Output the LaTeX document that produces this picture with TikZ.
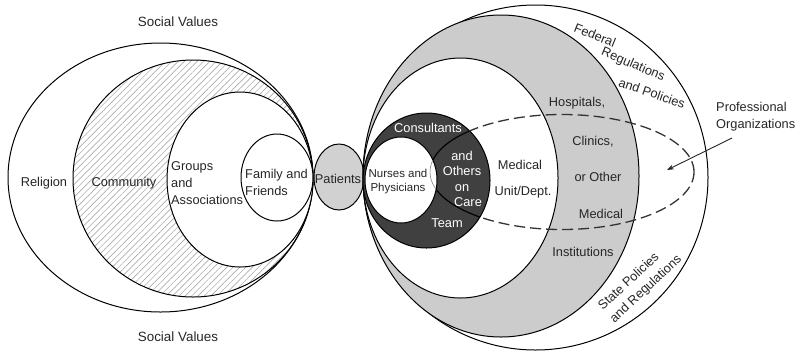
\documentclass[tikz,border=0pt]{standalone}
\usepackage{fontspec}
\setmainfont{Liberation Sans}
\usetikzlibrary{patterns.meta,arrows.meta}
\begin{document}
\begin{tikzpicture}[x=1pt,y=-1pt,
  outline/.style={draw=black,line width=1pt},
  lbl/.style={inner sep=0pt,font=\fontsize{12.8}{17}\selectfont,text=black!85},
  wlbl/.style={inner sep=0pt,font=\fontsize{12.8}{16}\selectfont,text=white},
  smalllbl/.style={inner sep=0pt,font=\fontsize{11.5}{14}\selectfont,text=black!85}]
\useasboundingbox (0,0) rectangle (799,354);
% ---------- left cluster ----------
\draw[outline,fill=white] (160.5,177.5) ellipse [x radius=152.5pt, y radius=134.5pt];
\fill[pattern={Lines[angle=45,distance=4.5pt,line width=0.45pt]},pattern color=black!40] (193,178.5) ellipse [x radius=120pt, y radius=118.5pt];
\draw[outline] (193,178.5) ellipse [x radius=120pt, y radius=118.5pt];
\draw[outline,fill=white] (240,179.5) ellipse [x radius=73pt, y radius=87.5pt];
\draw[outline,fill=white] (277,177.5) ellipse [x radius=36pt, y radius=43.5pt];
\draw[outline,fill=black!18] (339,177) ellipse [x radius=25pt, y radius=33pt];
% ---------- right cluster ----------
\draw[outline] (535.5,177.5) ellipse [x radius=172.5pt, y radius=172.5pt];
\draw[outline,fill=black!20] (501,176) ellipse [x radius=138pt, y radius=161pt];
\draw[outline,fill=white] (460.5,178) ellipse [x radius=97.5pt, y radius=120pt];
\draw[outline,fill=black!75] (426.5,180.5) ellipse [x radius=63.5pt, y radius=67.5pt];
% dashed ellipse
\draw[black!80,line width=1.3pt,dash pattern=on 11pt off 5pt] (562,172) ellipse [x radius=132pt, y radius=57.5pt];
\begin{scope}
  \clip (426.5,180.5) ellipse [x radius=63.5pt, y radius=67.5pt];
  \draw[black,line width=1.1pt] (562,172) ellipse [x radius=132pt, y radius=57.5pt];
\end{scope}
\draw[outline,fill=white] (401,180) ellipse [x radius=36pt, y radius=43pt];
\begin{scope}
  \clip (401,180) ellipse [x radius=36pt, y radius=43pt];
  \draw[black!55,line width=0.5pt] (562,172) ellipse [x radius=132pt, y radius=57.5pt];
\end{scope}
% ---------- labels ----------
\node[lbl,font=\fontsize{13.4}{17}\selectfont] (sv1) at (178,22) {Social Values};
\node[lbl,font=\fontsize{13.4}{17}\selectfont] (sv2) at (178,337) {Social Values};
\node[lbl] (religion) at (44,183) {Religion};
\node[lbl] (community) at (124,183) {Community};
\node[lbl,anchor=west,align=left] (groups) at (171,183) {Groups\\and\\Associations};
\node[lbl,anchor=west,align=left] (family) at (245,182.5) {Family and\\Friends};
\node[lbl] (patients) at (338,179) {Patients};
\node[smalllbl,align=center] (nurses) at (398,182) {Nurses and\\Physicians};
\node[wlbl] (consult) at (428,128) {Consultants};
\node[wlbl,align=center,font=\fontsize{12.8}{15.5}\selectfont] (others) at (462,171) {and\\Others\\on};
\node[wlbl] (care) at (468,202) {Care};
\node[wlbl] (team) at (447,223) {Team};
\node[lbl] (med1) at (520,165) {Medical};
\node[lbl] (med2) at (523,192) {Unit/Dept.};
\node[lbl] (hosp) at (577,103) {Hospitals,};
\node[lbl] (clin) at (593,142) {Clinics,};
\node[lbl] (oth) at (598,177) {or Other};
\node[lbl] (medi) at (601,214) {Medical};
\node[lbl] (inst) at (583,252) {Institutions};
\node[lbl,rotate=-22] (fed) at (595,35) {Federal};
\node[lbl,rotate=-23] (reg) at (633,65) {Regulations};
\node[lbl,rotate=-19] (pol) at (652,93) {and Policies};
\node[lbl,rotate=43,align=left] (state) at (640.3,282.9) {State Policies\\and Regulations};
\node[lbl,anchor=west,align=left] (prof) at (716,116.5) {Professional\\Organizations};
\coordinate (arrS) at (732,138);
\coordinate (arrE) at (667,170);
\draw[black!85,line width=0.9pt,-{Stealth[length=7pt,width=5pt]}] (arrS) -- (arrE);
\end{tikzpicture}
\end{document}
